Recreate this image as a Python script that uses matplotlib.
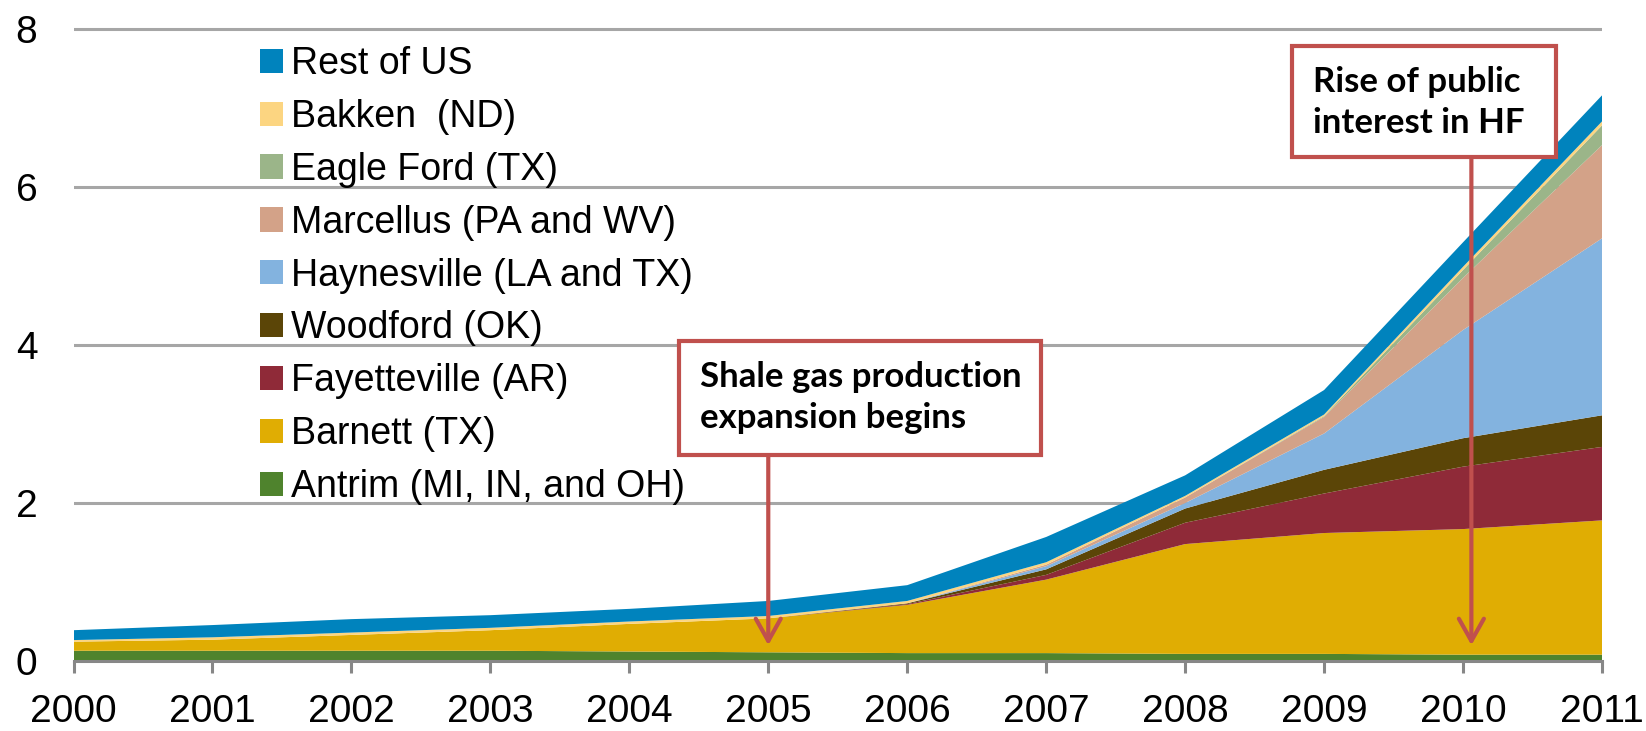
import matplotlib
matplotlib.use("Agg")
import matplotlib.pyplot as plt
from matplotlib.patches import Rectangle

plt.rcParams['font.family'] = ['Liberation Sans', 'DejaVu Sans']

years = [2000, 2001, 2002, 2003, 2004, 2005, 2006, 2007, 2008, 2009, 2010, 2011]

# shale gas production by play (stacked, bottom to top)
antrim = [0.13, 0.13, 0.13, 0.13, 0.12, 0.11, 0.10, 0.10, 0.09, 0.09, 0.08, 0.08]
barnett = [0.115, 0.14, 0.20, 0.26, 0.35, 0.43, 0.61, 0.93, 1.39, 1.53, 1.59, 1.70]
fayetteville = [0, 0, 0, 0, 0, 0, 0.01, 0.06, 0.27, 0.50, 0.79, 0.93]
woodford = [0, 0, 0, 0, 0, 0, 0.01, 0.07, 0.18, 0.30, 0.36, 0.40]
haynesville = [0, 0, 0, 0, 0, 0, 0, 0.04, 0.07, 0.46, 1.37, 2.24]
marcellus = [0, 0, 0, 0, 0, 0, 0, 0.02, 0.07, 0.21, 0.66, 1.18]
eagle_ford = [0, 0, 0, 0, 0, 0, 0, 0, 0, 0.01, 0.10, 0.25]
bakken = [0.02, 0.03, 0.03, 0.03, 0.03, 0.03, 0.03, 0.03, 0.02, 0.02, 0.04, 0.05]
rest_of_us = [0.125, 0.155, 0.17, 0.16, 0.16, 0.19, 0.20, 0.32, 0.26, 0.31, 0.31, 0.33]

labels = ['Antrim (MI, IN, and OH)', 'Barnett (TX)', 'Fayetteville (AR)', 'Woodford (OK)',
          'Haynesville (LA and TX)', 'Marcellus (PA and WV)', 'Eagle Ford (TX)',
          'Bakken  (ND)', 'Rest of US']
colors = ['#4f832d', '#e0ad03', '#8f2a38', '#5b4507', '#83b3df', '#d3a288',
          '#9bb589', '#fcd581', '#0083bd']

fig = plt.figure(figsize=(16.46, 7.31), dpi=100)
ax = fig.add_axes([73.5 / 1646, 70 / 731, (1602 - 73.5) / 1646, 8.3 * 79 / 731])

polys = ax.stackplot(years, antrim, barnett, fayetteville, woodford, haynesville,
                     marcellus, eagle_ford, bakken, rest_of_us,
                     colors=colors, labels=labels, linewidth=0, zorder=2)

ax.set_xlim(2000, 2011)
ax.set_ylim(0, 8.3)
ax.set_yticks([0, 2, 4, 6, 8])
ax.set_xticks(years)
ax.grid(axis='y', color='#a6a6a6', linewidth=2.2, zorder=1)
ax.set_axisbelow(True)

for s in ['left', 'right', 'top']:
    ax.spines[s].set_visible(False)
ax.spines['bottom'].set_color('#878787')
ax.spines['bottom'].set_linewidth(2.2)
ax.spines['bottom'].set_zorder(3)

ax.tick_params(axis='x', length=8.6, width=2.2, color='#878787', pad=15, labelsize=28)
ax.tick_params(axis='y', length=0, pad=26, labelsize=28)

handles, labs = ax.get_legend_handles_labels()
leg = ax.legend(handles[::-1], labs[::-1], loc='upper left',
                bbox_to_anchor=(260 / 1646, 1 - 46 / 731), bbox_transform=fig.transFigure,
                frameon=False, fontsize=27, handlelength=0.62, handleheight=0.62,
                handletextpad=0.2, labelspacing=0.45, borderpad=0, borderaxespad=0)

red = '#c0504d'
arrow = dict(arrowstyle='->,head_length=0.8,head_width=0.45', color=red, lw=3,
             mutation_scale=20, shrinkA=0, shrinkB=0)

# annotation boxes
ax.add_patch(Rectangle((2004.36, 2.61), 2.60, 1.44, facecolor='white', edgecolor=red,
                       linewidth=3, zorder=5, clip_on=False))
ax.text(2004.51, 3.34, 'Shale gas production\nexpansion begins', fontsize=25,
        fontweight='bold', family='Lato', va='center', ha='left', linespacing=1.35, zorder=6)
ax.annotate('', xy=(2005, 0.2), xytext=(2005, 2.61), arrowprops=arrow, zorder=4)

ax.add_patch(Rectangle((2008.77, 6.38), 1.90, 1.40, facecolor='white', edgecolor=red,
                       linewidth=3, zorder=5, clip_on=False))
ax.text(2008.92, 7.07, 'Rise of public\ninterest in HF', fontsize=25,
        fontweight='bold', family='Lato', va='center', ha='left', linespacing=1.35, zorder=6)
ax.annotate('', xy=(2010.06, 0.2), xytext=(2010.06, 6.38), arrowprops=arrow, zorder=4)

fig.savefig('out.png', dpi=100)
